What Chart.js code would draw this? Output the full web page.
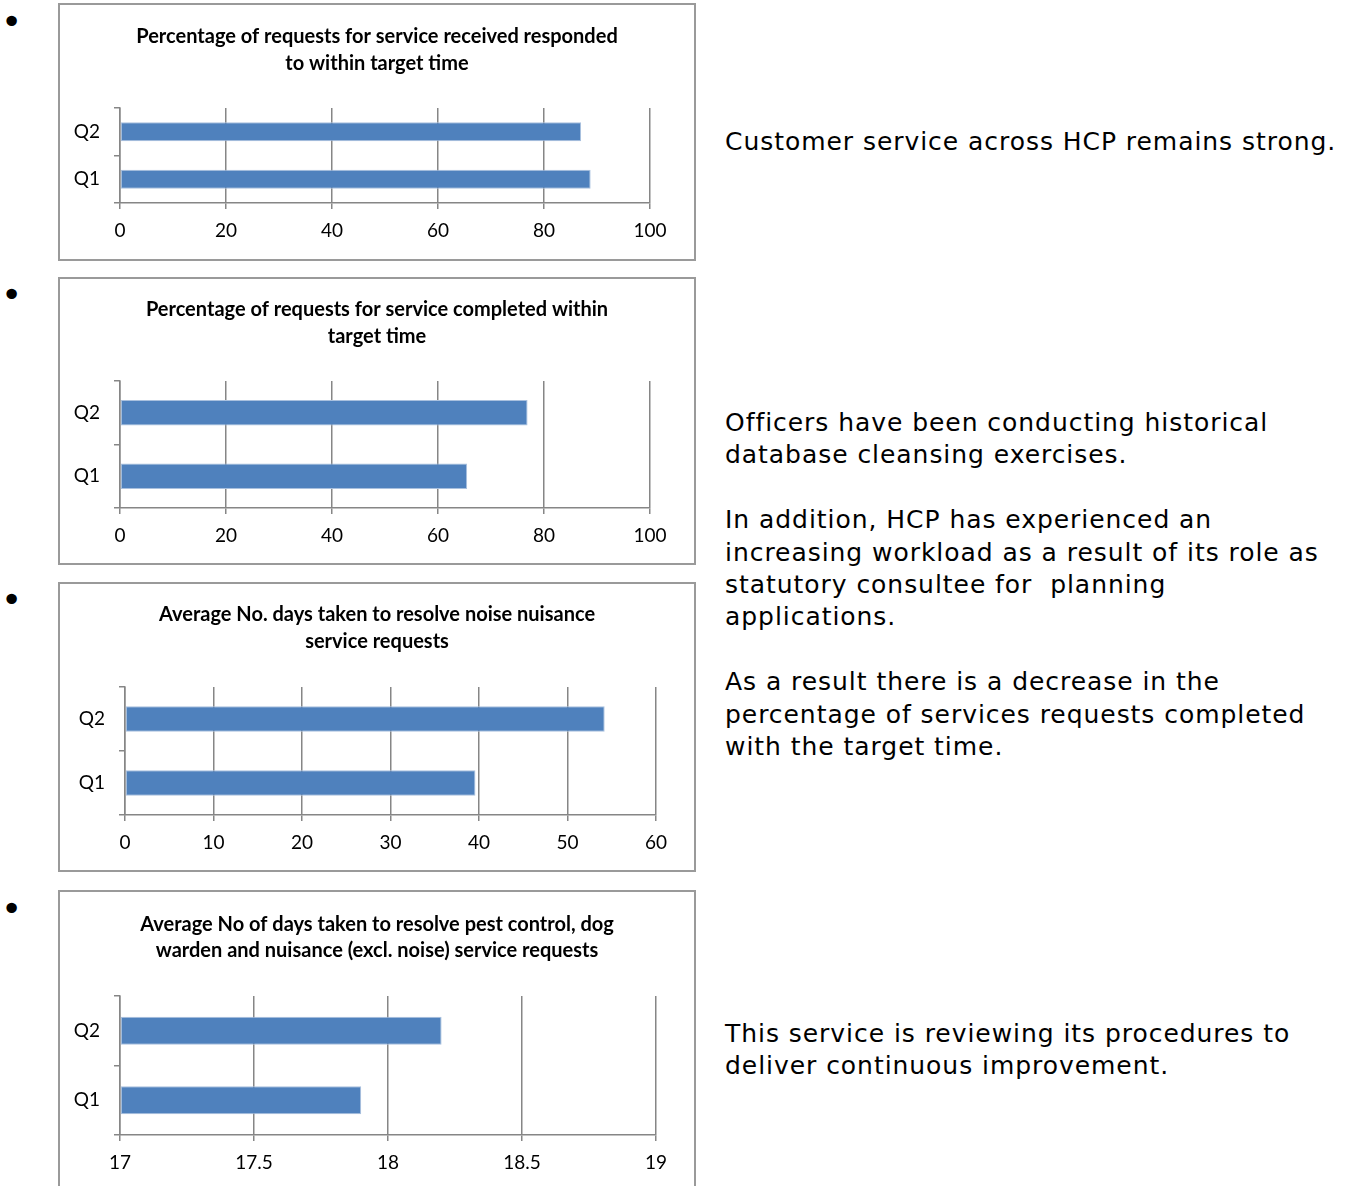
<!DOCTYPE html>
<html>
<head>
<meta charset="utf-8">
<script src="https://cdn.jsdelivr.net/npm/chart.js@4.4.0/dist/chart.umd.min.js"></script>
<style>
  html, body { margin: 0; padding: 0; background: #fff; overflow: hidden; }
  body { width: 1353px; height: 1186px; position: relative; }
  .box { position: absolute; left: 58px; width: 638px; border: 2px solid #9a9a9a; box-sizing: border-box; background: #fff; }
  .box canvas { display: block; }
  .bullet { position: absolute; left: 1px; font-family: "DejaVu Sans", sans-serif; font-size: 36px; line-height: 36px; color: #000; }
  .note { position: absolute; left: 725px; font-family: "DejaVu Sans", sans-serif; font-size: 25px; letter-spacing: 0.95px; line-height: 32.4px; color: #000; white-space: nowrap; }
</style>
</head>
<body>

<div class="bullet" style="top:4px">•</div>
<div class="bullet" style="top:277px">•</div>
<div class="bullet" style="top:582px">•</div>
<div class="bullet" style="top:891px">•</div>

<div class="box" style="top:3px;height:258px"><canvas id="c1" width="634" height="254"></canvas></div>
<div class="box" style="top:277px;height:288px"><canvas id="c2" width="634" height="284"></canvas></div>
<div class="box" style="top:582px;height:290px"><canvas id="c3" width="634" height="286"></canvas></div>
<div class="box" style="top:890px;height:310px"><canvas id="c4" width="634" height="306"></canvas></div>

<div class="note" style="top:126px">Customer service across HCP remains strong.</div>
<div class="note" style="top:407px">Officers have been conducting historical<br>database cleansing exercises.<br><br>In addition, HCP has experienced an<br>increasing workload as a result of its role as<br>statutory consultee for&nbsp; planning<br>applications.<br><br>As a result there is a decrease in the<br>percentage of services requests completed<br>with the target time.</div>
<div class="note" style="top:1018px">This service is reviewing its procedures to<br>deliver continuous improvement.</div>

<script>
// categories
const quarters = ['Q1', 'Q2'];

// series values
const respondedPct = [88.8, 87.0];
const completedPct = [65.5, 76.9];
const noiseDays = [39.6, 54.2];
const pestDays = [17.9, 18.2];

// value axis ranges [min, max, step] and their tick labels
const pctAxis = [0, 100, 20];
const pctTicks = ['0', '20', '40', '60', '80', '100'];
const noiseAxis = [0, 60, 10];
const noiseTicks = ['0', '10', '20', '30', '40', '50', '60'];
const pestAxis = [17, 19, 0.5];
const pestTicks = ['17', '17.5', '18', '18.5', '19'];

// chart titles
const title1 = ['Percentage of requests for service received responded', 'to within target time'];
const title2 = ['Percentage of requests for service completed within', 'target time'];
const title3 = ['Average No. days taken to resolve noise nuisance', 'service requests'];
const title4 = ['Average No of days taken to resolve pest control, dog', 'warden and nuisance (excl. noise) service requests'];

const gridGrey = '#868686';

// one small horizontal bar chart; "box" holds the plot area inside the canvas
function barChart(id, titleLines, values, axis, tickLabels, box) {
  const cv = document.getElementById(id);
  const lh = box.lh;
  const padTop = box.titleY - lh / 2;
  new Chart(cv.getContext('2d'), {
    type: 'bar',
    data: {
      labels: quarters,
      datasets: [{
        data: values,
        base: axis[0],
        backgroundColor: '#4f81bd',
        borderColor: '#a9c0de',
        borderWidth: 1,
        borderSkipped: false,
        categoryPercentage: 1,
        barPercentage: 0.4,
      }],
    },
    options: {
      indexAxis: 'y',
      responsive: false,
      animation: false,
      layout: { padding: 0 },
      plugins: {
        legend: { display: false },
        tooltip: { enabled: false },
        title: {
          display: true,
          text: titleLines,
          color: '#000',
          font: { family: 'Lato', weight: 'bold', size: 20, lineHeight: lh / 20 },
          padding: { top: padTop, bottom: box.top - padTop - 2 * lh },
        },
      },
      scales: {
        x: {
          min: axis[0],
          max: axis[1],
          afterFit: (s) => { s.height = cv.height - box.bottom; },
          ticks: {
            stepSize: axis[2],
            color: '#000',
            padding: 10,
            font: { family: 'Lato', size: 19 },
            callback: (v, i) => tickLabels[i],
          },
          grid: { color: gridGrey, lineWidth: 1.5, tickLength: 6 },
          border: { color: gridGrey, width: 1.5 },
        },
        y: {
          reverse: true,
          afterFit: (s) => { s.width = box.left; },
          ticks: {
            color: '#000',
            padding: 14,
            font: { family: 'Lato', size: 19 },
          },
          grid: { drawOnChartArea: false, color: gridGrey, lineWidth: 1.5, tickLength: 6 },
          border: { color: gridGrey, width: 1.5 },
        },
        // empty right-hand axis: only reserves the blank strip right of the plot
        pad: {
          type: 'linear',
          position: 'right',
          afterFit: (s) => { s.width = cv.width - box.right; },
          ticks: { display: false },
          grid: { display: false },
          border: { display: false },
        },
      },
    },
  });
}

barChart('c1', title1, respondedPct, pctAxis, pctTicks, { left: 60, right: 590, top: 103, bottom: 198, titleY: 32, lh: 27 });
barChart('c2', title2, completedPct, pctAxis, pctTicks, { left: 60, right: 590, top: 102, bottom: 229, titleY: 31, lh: 27 });
barChart('c3', title3, noiseDays, noiseAxis, noiseTicks, { left: 65, right: 596, top: 103, bottom: 231, titleY: 31, lh: 27 });
barChart('c4', title4, pestDays, pestAxis, pestTicks, { left: 60, right: 596, top: 104, bottom: 243, titleY: 33, lh: 26 });
</script>
</body>
</html>
